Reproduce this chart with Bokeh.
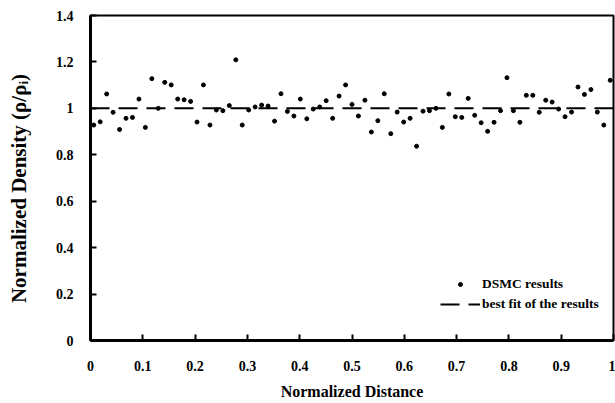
from bokeh.plotting import figure
from bokeh.models import Range1d, FixedTicker, Legend, LegendItem
from bokeh.embed import file_html
from bokeh.resources import INLINE

# ---- data ----
dist = [0.0062, 0.0185, 0.0309, 0.0432, 0.0556, 0.0679, 0.0802, 0.0926, 0.1049, 0.1173,
        0.1296, 0.1420, 0.1543, 0.1667, 0.1790, 0.1914, 0.2037, 0.2160, 0.2284, 0.2407,
        0.2531, 0.2654, 0.2778, 0.2901, 0.3025, 0.3148, 0.3272, 0.3395, 0.3519, 0.3642,
        0.3765, 0.3889, 0.4012, 0.4136, 0.4259, 0.4383, 0.4506, 0.4630, 0.4753, 0.4877,
        0.5000, 0.5123, 0.5247, 0.5370, 0.5494, 0.5617, 0.5741, 0.5864, 0.5988, 0.6111,
        0.6235, 0.6358, 0.6481, 0.6605, 0.6728, 0.6852, 0.6975, 0.7099, 0.7222, 0.7346,
        0.7469, 0.7593, 0.7716, 0.7840, 0.7963, 0.8086, 0.8210, 0.8333, 0.8457, 0.8580,
        0.8704, 0.8827, 0.8951, 0.9074, 0.9198, 0.9321, 0.9444, 0.9568, 0.9691, 0.9815,
        0.9938]
density = [0.928, 0.942, 1.062, 0.983, 0.909, 0.957, 0.961, 1.040, 0.918, 1.128,
           1.000, 1.112, 1.101, 1.040, 1.037, 1.030, 0.941, 1.101, 0.928, 0.993,
           0.990, 1.012, 1.209, 0.928, 0.993, 1.006, 1.014, 1.010, 0.945, 1.063,
           0.987, 0.967, 1.040, 0.955, 0.997, 1.006, 1.033, 0.957, 1.053, 1.101,
           1.017, 0.967, 1.035, 0.898, 0.947, 1.063, 0.891, 0.984, 0.941, 0.957,
           0.837, 0.988, 0.990, 1.000, 0.918, 1.062, 0.964, 0.961, 1.043, 0.970,
           0.938, 0.901, 0.940, 0.990, 1.132, 0.990, 0.940, 1.056, 1.056, 0.983,
           1.035, 1.027, 0.997, 0.964, 0.984, 1.092, 1.060, 1.081, 0.984, 0.928,
           1.121]
fit_x = [0.0, 1.0]
fit_y = [1.0, 1.0]

x_ticks = [0, 0.1, 0.2, 0.3, 0.4, 0.5, 0.6, 0.7, 0.8, 0.9, 1.0]
x_labels = ["0", "0.1", "0.2", "0.3", "0.4", "0.5", "0.6", "0.7", "0.8", "0.9", "1"]
y_ticks = [0, 0.2, 0.4, 0.6, 0.8, 1.0, 1.2, 1.4]
y_labels = ["0", "0.2", "0.4", "0.6", "0.8", "1", "1.2", "1.4"]
y_title = "Normalized Density (\u03c1/\u03c1\u1d62)"
x_title = "Normalized Distance"

FONT = "Liberation Serif"

p = figure(width=615, height=403, output_backend="svg", toolbar_location=None,
           x_range=Range1d(0, 1), y_range=Range1d(0, 1.4),
           min_border_left=90, min_border_right=2, min_border_top=15, min_border_bottom=63)
p.background_fill_color = "white"
p.border_fill_color = "white"
p.grid.visible = False
p.outline_line_color = "black"
p.outline_line_width = 2

sc = p.scatter(dist, density, marker="circle", size=4, color="black")
ln = p.line(fit_x, fit_y, line_color="black", line_width=2, line_dash="19 9")

for ax in (p.xaxis[0], p.yaxis[0]):
    ax.axis_line_width = 3
    ax.axis_line_color = "black"
    ax.major_tick_in = 6
    ax.major_tick_out = 0
    ax.major_tick_line_width = 2
    ax.minor_tick_line_color = None
    ax.major_label_text_font = FONT
    ax.major_label_text_font_style = "bold"
    ax.major_label_text_font_size = "14px"
    ax.major_label_text_color = "black"
    ax.axis_label_text_font = FONT
    ax.axis_label_text_font_style = "bold"
    ax.axis_label_text_color = "black"

p.xaxis[0].ticker = FixedTicker(ticks=x_ticks)
p.xaxis[0].major_label_overrides = {t: l for t, l in zip(x_ticks, x_labels)}
p.xaxis[0].major_label_standoff = 20
p.xaxis[0].axis_label = x_title
p.xaxis[0].axis_label_text_font_size = "16px"
p.xaxis[0].axis_label_standoff = 9

p.yaxis[0].ticker = FixedTicker(ticks=y_ticks)
p.yaxis[0].major_label_overrides = {t: l for t, l in zip(y_ticks, y_labels)}
p.yaxis[0].major_label_standoff = 17
# trailing no-break spaces move the visible title a little below the frame centre
p.yaxis[0].axis_label = y_title + "\u00a0" * 4
p.yaxis[0].axis_label_text_font_size = "21px"
p.yaxis[0].axis_label_standoff = 22

legend = Legend(items=[LegendItem(label="DSMC results", renderers=[sc]),
                       LegendItem(label="best fit of the results", renderers=[ln])],
                location=(350, 28), glyph_width=40, glyph_height=10, label_height=10,
                spacing=4, padding=0, margin=0, label_standoff=2,
                border_line_color=None, background_fill_alpha=0,
                label_text_font=FONT, label_text_font_style="bold",
                label_text_font_size="13.5px", label_text_color="black")
p.add_layout(legend)

open("out.html", "w").write(file_html(p, INLINE))
